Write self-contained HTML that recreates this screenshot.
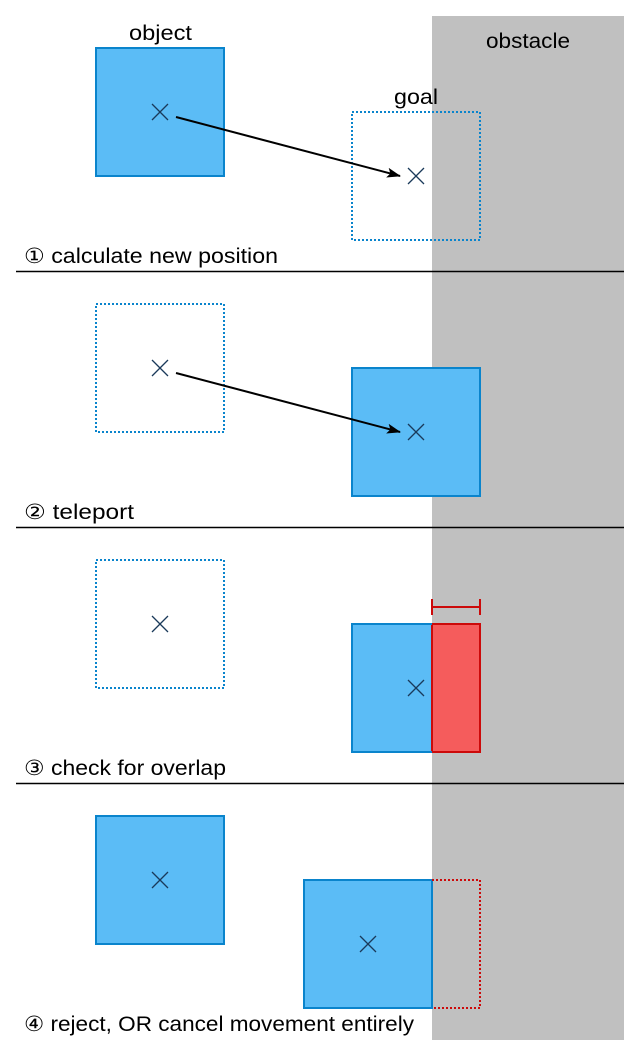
<!DOCTYPE html>
<html><head><meta charset="utf-8"><style>
html,body{margin:0;padding:0;background:#fff}
svg{display:block}
text{font-family:"Liberation Sans",sans-serif;font-size:21px;fill:#000}
</style></head><body>
<svg width="640" height="1056" viewBox="0 0 640 1056">
<defs><marker id="ah" markerWidth="14" markerHeight="10" refX="13" refY="5" orient="auto" markerUnits="userSpaceOnUse"><path d="M0,0 L14,5 L0,10 L3,5 Z" fill="#000"/></marker></defs>
<rect x="432" y="16" width="192" height="1024" fill="#c0c0c0"/>
<text x="486" y="48" textLength="84" lengthAdjust="spacingAndGlyphs">obstacle</text>
<g stroke="#000" stroke-width="1.5">
<line x1="16" y1="271.5" x2="624" y2="271.5"/>
<line x1="16" y1="527.5" x2="624" y2="527.5"/>
<line x1="16" y1="783.5" x2="624" y2="783.5"/>
</g>
<g>
<text x="129" y="40" textLength="63" lengthAdjust="spacingAndGlyphs">object</text>
<rect x="96" y="48" width="128" height="128" fill="#5bbcf6" stroke="#0a84cc" stroke-width="2"/>
<text x="394" y="104" textLength="44" lengthAdjust="spacingAndGlyphs">goal</text>
<rect x="352" y="112" width="128" height="128" fill="none" stroke="#0a84cc" stroke-width="2" stroke-dasharray="2,2"/>
<line x1="176" y1="117" x2="400" y2="176" stroke="#000" stroke-width="2" marker-end="url(#ah)"/>
<text x="24" y="263" textLength="254" lengthAdjust="spacingAndGlyphs">① calculate new position</text>
</g>
<g>
<rect x="96" y="304" width="128" height="128" fill="none" stroke="#0a84cc" stroke-width="2" stroke-dasharray="2,2"/>
<rect x="352" y="368" width="128" height="128" fill="#5bbcf6" stroke="#0a84cc" stroke-width="2"/>
<line x1="176" y1="373" x2="400" y2="432" stroke="#000" stroke-width="2" marker-end="url(#ah)"/>
<text x="24" y="519" textLength="110" lengthAdjust="spacingAndGlyphs">② teleport</text>
</g>
<g>
<rect x="96" y="560" width="128" height="128" fill="none" stroke="#0a84cc" stroke-width="2" stroke-dasharray="2,2"/>
<rect x="352" y="624" width="80" height="128" fill="#5bbcf6" stroke="#0a84cc" stroke-width="2"/>
<rect x="432" y="624" width="48" height="128" fill="#f55c5c" stroke="#cc0a0a" stroke-width="2"/>
<line x1="352" y1="624" x2="432" y2="624" stroke="#0a84cc" stroke-width="2"/>
<line x1="352" y1="752" x2="432" y2="752" stroke="#0a84cc" stroke-width="2"/>
<g stroke="#cc0a0a" stroke-width="2">
<line x1="432" y1="607" x2="480" y2="607"/><line x1="432" y1="599" x2="432" y2="615"/><line x1="480" y1="599" x2="480" y2="615"/>
</g>
<text x="24" y="775" textLength="202" lengthAdjust="spacingAndGlyphs">③ check for overlap</text>
</g>
<g>
<rect x="96" y="816" width="128" height="128" fill="#5bbcf6" stroke="#0a84cc" stroke-width="2"/>
<rect x="304" y="880" width="128" height="128" fill="#5bbcf6" stroke="#0a84cc" stroke-width="2"/>
<path d="M432,880 H480 V1008 H432" fill="none" stroke="#cc0a0a" stroke-width="2" stroke-dasharray="2,2"/>
<text x="24" y="1031" textLength="390" lengthAdjust="spacingAndGlyphs">④ reject, OR cancel movement entirely</text>
</g>
<g stroke="#1a3a5a" stroke-width="1.3">
<path d="M152,104 l16,16 M168,104 l-16,16"/>
<path d="M408,168 l16,16 M424,168 l-16,16"/>
<path d="M152,360 l16,16 M168,360 l-16,16"/>
<path d="M408,424 l16,16 M424,424 l-16,16"/>
<path d="M152,616 l16,16 M168,616 l-16,16"/>
<path d="M408,680 l16,16 M424,680 l-16,16"/>
<path d="M152,872 l16,16 M168,872 l-16,16"/>
<path d="M360,936 l16,16 M376,936 l-16,16"/>
</g>
</svg>
</body></html>
